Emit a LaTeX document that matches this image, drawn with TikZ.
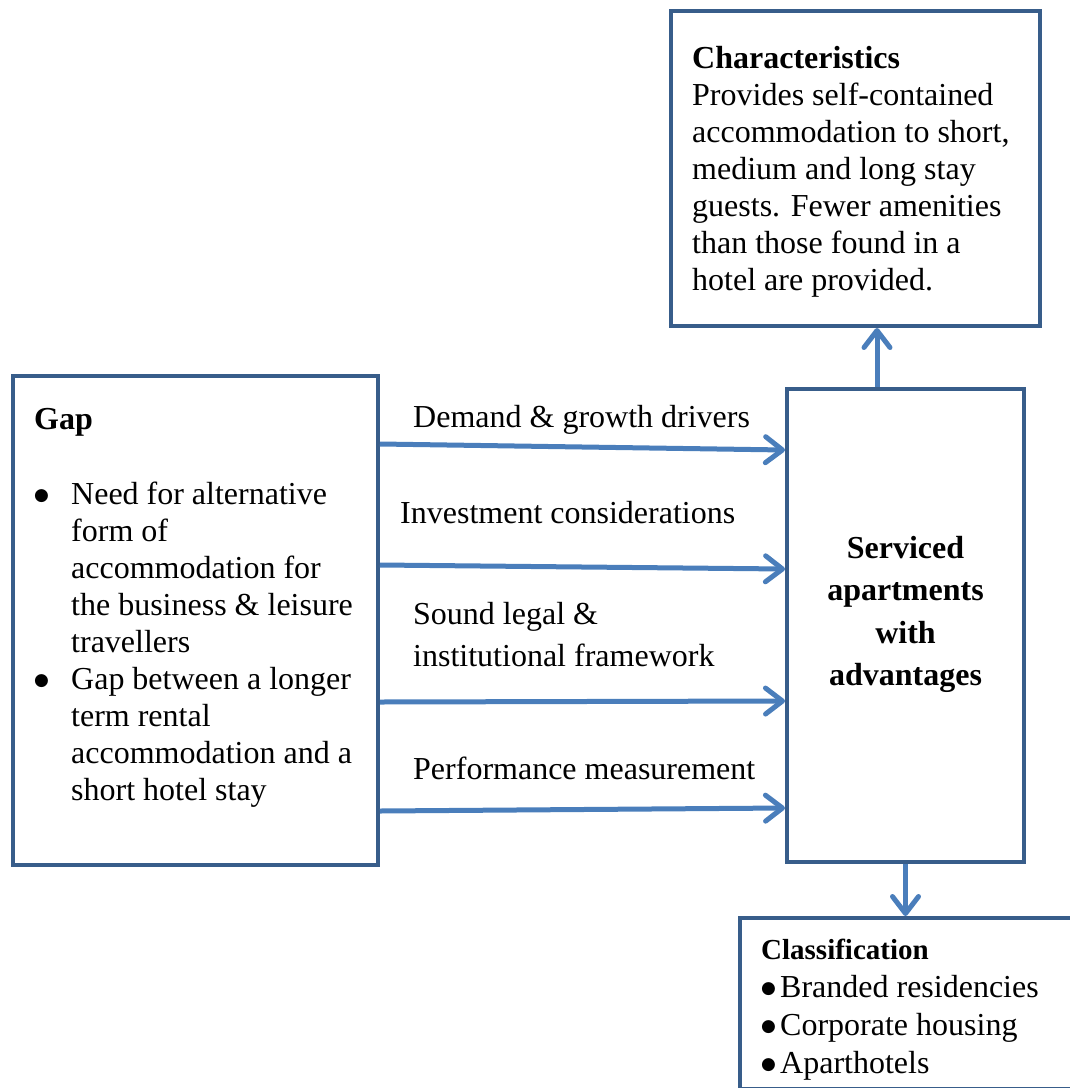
\documentclass[tikz,border=0pt]{standalone}
\usepackage{fontspec}
\setmainfont{Liberation Serif}
\newfontfamily\symfont{DejaVu Sans}
\usetikzlibrary{arrows.meta,calc,positioning}
\definecolor{boxblue}{RGB}{56,93,138}
\definecolor{arrowblue}{RGB}{74,126,187}
\newcommand{\bigdot}{\raisebox{4pt}{\fontsize{17}{17}\symfont ●}}

\begin{document}
\begin{tikzpicture}[x=1pt, y=-1pt,
    box/.style={draw=boxblue, line width=4pt, rectangle, inner sep=0pt},
    flow/.style={draw=arrowblue, line width=5pt, -{Straight Barb[length=17pt, width=26pt, round]}},
    txt/.style={inner sep=0pt, anchor=base west, font=\fontsize{32}{37}\selectfont}]
    \path[use as bounding box, clip] (0,0) rectangle (1070,1088);

    % Boxes
    \node (gap) [box, minimum width=365pt, minimum height=489pt] at (195.5,620.5) {};
    \node (chars) [box, minimum width=369pt, minimum height=315pt] at (855.5,168.5) {};
    \node (serv) [box, minimum width=237pt, minimum height=473pt] at (905.5,625.5) {};
    \node (class) [box, minimum width=345pt, minimum height=171pt] at (912.5,1003.5) {};

    % Box texts
    \node (gaptitle) [txt] at ($(gap.north west)+(23,55)$) {\bfseries Gap};
    \node (gaplist) [txt] at ($(gap.north west)+(23,130)$) {\begin{tabular}[t]{@{}p{37pt}@{}l@{}}
        \bigdot & Need for alternative\\
                & form of\\
                & accommodation for\\
                & the business \& leisure\\
                & travellers\\
        \bigdot & Gap between a longer\\
                & term rental\\
                & accommodation and a\\
                & short hotel stay
    \end{tabular}};
    \node (charstext) [txt] at ($(chars.north west)+(23,59)$) {\begin{tabular}[t]{@{}l@{}}
        \textbf{Characteristics}\\
        Provides self-contained\\
        accommodation to short,\\
        medium and long stay\\
        guests. Fewer amenities\\
        than those found in a\\
        hotel are provided.
    \end{tabular}};
    \node (servtext) [txt, anchor=base, font=\fontsize{32}{42.5}\selectfont\bfseries] at ($(serv.north)+(0,171)$) {\begin{tabular}[t]{@{}c@{}}
        Serviced\\ apartments\\ with\\ advantages
    \end{tabular}};
    \node (classtext) [txt, font=\fontsize{32}{38}\selectfont] at ($(class.north west)+(23,43)$) {\begin{tabular}[t]{@{}p{19pt}@{}l@{}}
        \multicolumn{2}{@{}l@{}}{\fontsize{29}{38}\selectfont\bfseries Classification}\\
        \bigdot & Branded residencies\\
        \bigdot & Corporate housing\\
        \bigdot & Aparthotels
    \end{tabular}};

    % Labels
    \node (demand) [txt] at ($(gap.north east)+(33,53)$) {Demand \& growth drivers};
    \node (invest) [txt] at ($(gap.north east)+(20,149)$) {Investment considerations};
    \node (legal) [txt, font=\fontsize{32}{42}\selectfont] at ($(gap.north east)+(33,250)$) {\begin{tabular}[t]{@{}l@{}}
        Sound legal \&\\ institutional framework
    \end{tabular}};
    \node (perf) [txt] at ($(gap.north east)+(33,405)$) {Performance measurement};

    % Arrows
    \draw[flow] ($(gap.north east)+(0,70)$) -- ($(serv.north west)+(0,63)$);
    \draw[flow] ($(gap.north east)+(0,191)$) -- ($(serv.north west)+(0,182)$);
    \draw[flow] ($(gap.north east)+(0,328)$) -- ($(serv.north west)+(0,314)$);
    \draw[flow] ($(gap.north east)+(0,437)$) -- ($(serv.north west)+(0,421)$);
    \coordinate (up) at ($(serv.north)+(-28.5,0)$);
    \draw[flow] (up) -- (up |- chars.south);
    \draw[flow] (serv.south) -- (serv.south |- class.north);
\end{tikzpicture}
\end{document}
